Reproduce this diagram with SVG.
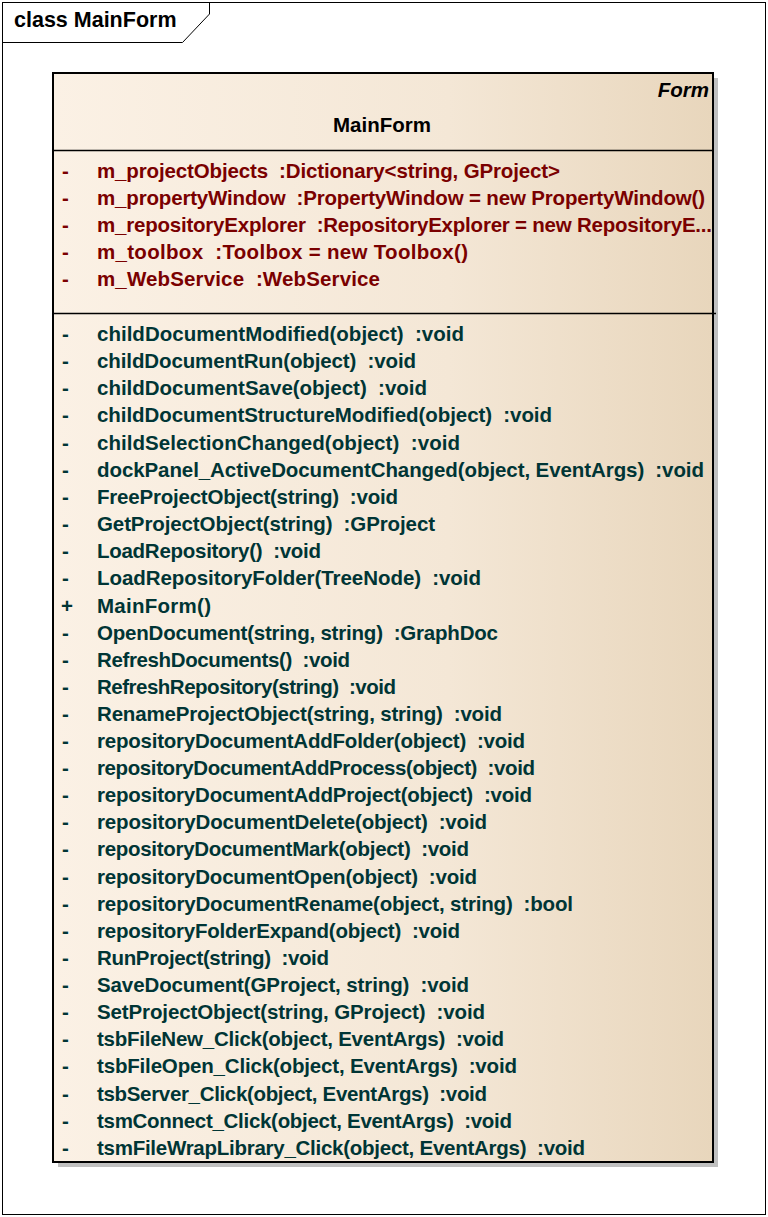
<svg xmlns="http://www.w3.org/2000/svg" width="768" height="1217" viewBox="0 0 768 1217">
<defs>
<linearGradient id="fill" x1="0" y1="0" x2="1" y2="0">
<stop offset="0" stop-color="#fbf1e5"/>
<stop offset="0.6" stop-color="#f4e7d6"/>
<stop offset="1" stop-color="#e8d6bc"/>
</linearGradient>
<style>
text{font-family:"Liberation Sans",Arial,sans-serif;font-weight:bold;font-size:20.5px;white-space:pre}
.a{fill:#7a0000}
.m{fill:#003535}
</style>
</defs>
<rect x="0" y="0" width="768" height="1217" fill="#ffffff"/>
<g id="frame">
<rect x="2.5" y="2.5" width="763" height="1212" fill="none" stroke="#000" stroke-width="1"/>
<path d="M2.5 42.5 H182.5 L209.5 14 V2.5" fill="none" stroke="#000" stroke-width="1"/>
<text x="14" y="27" style="font-size:21.5px" fill="#000">class MainForm</text>
</g>
<g id="MainForm">
<rect x="58" y="78" width="660" height="1089" fill="#c0c0c0"/>
<rect x="53" y="73" width="660" height="1089" fill="url(#fill)" stroke="#000" stroke-width="2"/>
<line x1="53" y1="150.5" x2="713" y2="150.5" stroke="#000" stroke-width="1.5"/>
<line x1="53" y1="313.5" x2="716" y2="313.5" stroke="#000" stroke-width="1.5"/>
<text x="709" y="97" text-anchor="end" style="font-style:italic" fill="#000">Form</text>
<text x="382" y="132" text-anchor="middle" fill="#000">MainForm</text>
<g class="a">
<text x="62" y="178">-</text><text x="97" y="178" textLength="463" lengthAdjust="spacing">m_projectObjects  :Dictionary&lt;string, GProject&gt;</text>
<text x="62" y="205">-</text><text x="97" y="205" textLength="608" lengthAdjust="spacing">m_propertyWindow  :PropertyWindow = new PropertyWindow()</text>
<text x="62" y="232">-</text><text x="97" y="232" textLength="615" lengthAdjust="spacing">m_repositoryExplorer  :RepositoryExplorer = new RepositoryE...</text>
<text x="62" y="259">-</text><text x="97" y="259" textLength="371" lengthAdjust="spacing">m_toolbox  :Toolbox = new Toolbox()</text>
<text x="62" y="286">-</text><text x="97" y="286" textLength="283" lengthAdjust="spacing">m_WebService  :WebService</text>
</g>
<g class="m">
<text x="62" y="341">-</text><text x="97" y="341" textLength="367" lengthAdjust="spacing">childDocumentModified(object)  :void</text>
<text x="62" y="368">-</text><text x="97" y="368" textLength="319" lengthAdjust="spacing">childDocumentRun(object)  :void</text>
<text x="62" y="395">-</text><text x="97" y="395" textLength="330" lengthAdjust="spacing">childDocumentSave(object)  :void</text>
<text x="62" y="422">-</text><text x="97" y="422" textLength="455" lengthAdjust="spacing">childDocumentStructureModified(object)  :void</text>
<text x="62" y="450">-</text><text x="97" y="450" textLength="363" lengthAdjust="spacing">childSelectionChanged(object)  :void</text>
<text x="62" y="477">-</text><text x="97" y="477" textLength="607" lengthAdjust="spacing">dockPanel_ActiveDocumentChanged(object, EventArgs)  :void</text>
<text x="62" y="504">-</text><text x="97" y="504" textLength="301" lengthAdjust="spacing">FreeProjectObject(string)  :void</text>
<text x="62" y="531">-</text><text x="97" y="531" textLength="338" lengthAdjust="spacing">GetProjectObject(string)  :GProject</text>
<text x="62" y="558">-</text><text x="97" y="558" textLength="224" lengthAdjust="spacing">LoadRepository()  :void</text>
<text x="62" y="585">-</text><text x="97" y="585" textLength="384" lengthAdjust="spacing">LoadRepositoryFolder(TreeNode)  :void</text>
<text x="61" y="613">+</text><text x="97" y="613" textLength="114" lengthAdjust="spacing">MainForm()</text>
<text x="62" y="640">-</text><text x="97" y="640" textLength="401" lengthAdjust="spacing">OpenDocument(string, string)  :GraphDoc</text>
<text x="62" y="667">-</text><text x="97" y="667" textLength="253" lengthAdjust="spacing">RefreshDocuments()  :void</text>
<text x="62" y="694">-</text><text x="97" y="694" textLength="299" lengthAdjust="spacing">RefreshRepository(string)  :void</text>
<text x="62" y="721">-</text><text x="97" y="721" textLength="405" lengthAdjust="spacing">RenameProjectObject(string, string)  :void</text>
<text x="62" y="748">-</text><text x="97" y="748" textLength="428" lengthAdjust="spacing">repositoryDocumentAddFolder(object)  :void</text>
<text x="62" y="775">-</text><text x="97" y="775" textLength="438" lengthAdjust="spacing">repositoryDocumentAddProcess(object)  :void</text>
<text x="62" y="802">-</text><text x="97" y="802" textLength="435" lengthAdjust="spacing">repositoryDocumentAddProject(object)  :void</text>
<text x="62" y="829">-</text><text x="97" y="829" textLength="390" lengthAdjust="spacing">repositoryDocumentDelete(object)  :void</text>
<text x="62" y="856">-</text><text x="97" y="856" textLength="372" lengthAdjust="spacing">repositoryDocumentMark(object)  :void</text>
<text x="62" y="884">-</text><text x="97" y="884" textLength="380" lengthAdjust="spacing">repositoryDocumentOpen(object)  :void</text>
<text x="62" y="911">-</text><text x="97" y="911" textLength="476" lengthAdjust="spacing">repositoryDocumentRename(object, string)  :bool</text>
<text x="62" y="938">-</text><text x="97" y="938" textLength="363" lengthAdjust="spacing">repositoryFolderExpand(object)  :void</text>
<text x="62" y="965">-</text><text x="97" y="965" textLength="232" lengthAdjust="spacing">RunProject(string)  :void</text>
<text x="62" y="992">-</text><text x="97" y="992" textLength="372" lengthAdjust="spacing">SaveDocument(GProject, string)  :void</text>
<text x="62" y="1019">-</text><text x="97" y="1019" textLength="388" lengthAdjust="spacing">SetProjectObject(string, GProject)  :void</text>
<text x="62" y="1046">-</text><text x="97" y="1046" textLength="407" lengthAdjust="spacing">tsbFileNew_Click(object, EventArgs)  :void</text>
<text x="62" y="1073">-</text><text x="97" y="1073" textLength="420" lengthAdjust="spacing">tsbFileOpen_Click(object, EventArgs)  :void</text>
<text x="62" y="1101">-</text><text x="97" y="1101" textLength="390" lengthAdjust="spacing">tsbServer_Click(object, EventArgs)  :void</text>
<text x="62" y="1128">-</text><text x="97" y="1128" textLength="415" lengthAdjust="spacing">tsmConnect_Click(object, EventArgs)  :void</text>
<text x="62" y="1155">-</text><text x="97" y="1155" textLength="488" lengthAdjust="spacing">tsmFileWrapLibrary_Click(object, EventArgs)  :void</text>
</g>
</g>
</svg>
